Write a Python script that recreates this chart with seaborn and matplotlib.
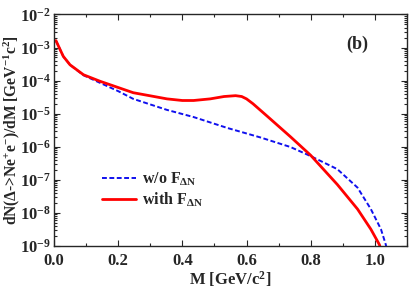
import numpy as np
import pandas as pd
import matplotlib
matplotlib.use("Agg")
import matplotlib.pyplot as plt
import seaborn as sns
from matplotlib.ticker import LogLocator, FuncFormatter, MultipleLocator, NullFormatter

sns.set_style("ticks")
plt.rcParams['font.family'] = ['Liberation Serif', 'DejaVu Serif']
plt.rcParams['font.weight'] = 'bold'
plt.rcParams['mathtext.fontset'] = 'custom'
plt.rcParams['mathtext.rm'] = 'Liberation Serif:bold'
plt.rcParams['mathtext.bf'] = 'Liberation Serif:bold'
plt.rcParams['mathtext.it'] = 'Liberation Serif:bold'

# curve
m_with = [0.006, 0.029, 0.05, 0.092, 0.144, 0.247, 0.352, 0.40, 0.435, 0.487,
          0.53, 0.566, 0.585, 0.60, 0.62, 0.665, 0.737, 0.8, 0.883, 0.946, 0.9875, 1.014, 1.02]
dn_with = [1.62e-3, 5.4e-4, 3.0e-4, 1.5e-4, 9.5e-5, 4.3e-5, 2.8e-5, 2.5e-5, 2.5e-5, 2.8e-5,
           3.3e-5, 3.5e-5, 3.3e-5, 2.8e-5, 2.0e-5, 8.3e-6, 2.0e-6, 5.5e-7, 7.2e-8, 1.3e-8,
           3.2e-9, 1.1e-9, 7e-10]

m_wo = [0.006, 0.029, 0.05, 0.092, 0.144, 0.2, 0.247, 0.352, 0.435, 0.54, 0.644, 0.737,
        0.8, 0.883, 0.946, 0.9875, 1.019, 1.034, 1.04]
dn_wo = [1.62e-3, 5.4e-4, 3.0e-4, 1.45e-4, 8.5e-5, 4.8e-5, 2.8e-5, 1.3e-5, 7.9e-6, 3.7e-6,
         1.9e-6, 9.8e-7, 5.2e-7, 2.1e-7, 5.8e-8, 1.3e-8, 3.2e-9, 1.1e-9, 6e-10]

df_wo = pd.DataFrame({'M': m_wo, 'dN': dn_wo})
df_with = pd.DataFrame({'M': m_with, 'dN': dn_with})

fig = plt.figure(figsize=(4.09, 2.89), dpi=100)
ax = fig.add_axes([0.132, 0.149, 0.863, 0.801])

sns.lineplot(data=df_wo, x='M', y='dN', ax=ax, color='#1010ee', lw=1.4,
             linestyle=(0, (2.5, 1.3)), label=r'w/o F$_{\Delta N}$')
sns.lineplot(data=df_with, x='M', y='dN', ax=ax, color='#ff0000', lw=2.0,
             label=r'with F$_{\Delta N}$')

ax.set_yscale('log')
ax.set_xlim(0, 1.1)
ax.set_ylim(1e-9, 1e-2)

ax.xaxis.set_major_locator(MultipleLocator(0.2))
ax.xaxis.set_minor_locator(MultipleLocator(0.1))
ax.yaxis.set_major_locator(LogLocator(base=10, numticks=20))
ax.yaxis.set_minor_locator(LogLocator(base=10, subs=np.arange(2, 10), numticks=20))
ax.yaxis.set_minor_formatter(NullFormatter())
ax.yaxis.set_major_formatter(FuncFormatter(lambda v, p: r'$10^{%d}$' % round(np.log10(v))))
ax.xaxis.set_major_formatter(FuncFormatter(lambda v, p: '%.1f' % v))

ax.tick_params(which='both', direction='in', top=True, right=True, labelsize=12, width=0.8)
ax.tick_params(axis='y', pad=2)
ax.tick_params(axis='x', pad=5)
ax.tick_params(which='major', length=4)
ax.tick_params(which='minor', length=2)
for s in ax.spines.values():
    s.set_linewidth(1.0)

ax.set_xlabel(r'M [GeV/c$^2$]', fontsize=12, fontweight='bold', labelpad=0)
ax.set_ylabel(r'dN($\Delta$->Ne$^{+}$e$^{-}$)/dM [GeV$^{-1}$c$^2$]', fontsize=11.2,
              fontweight='bold')
ax.yaxis.set_label_coords(-0.09, 0.5)

ax.text(0.86, 0.87, '(b)', transform=ax.transAxes, ha='center', va='center',
        fontsize=13, fontweight='bold')

ax.legend(loc='center left', bbox_to_anchor=(0.136, 0.242), frameon=False,
          borderaxespad=0, borderpad=0, handlelength=2.1, handletextpad=0.4,
          labelspacing=0.15, fontsize=11.5)

plt.savefig('out.png', dpi=100)
